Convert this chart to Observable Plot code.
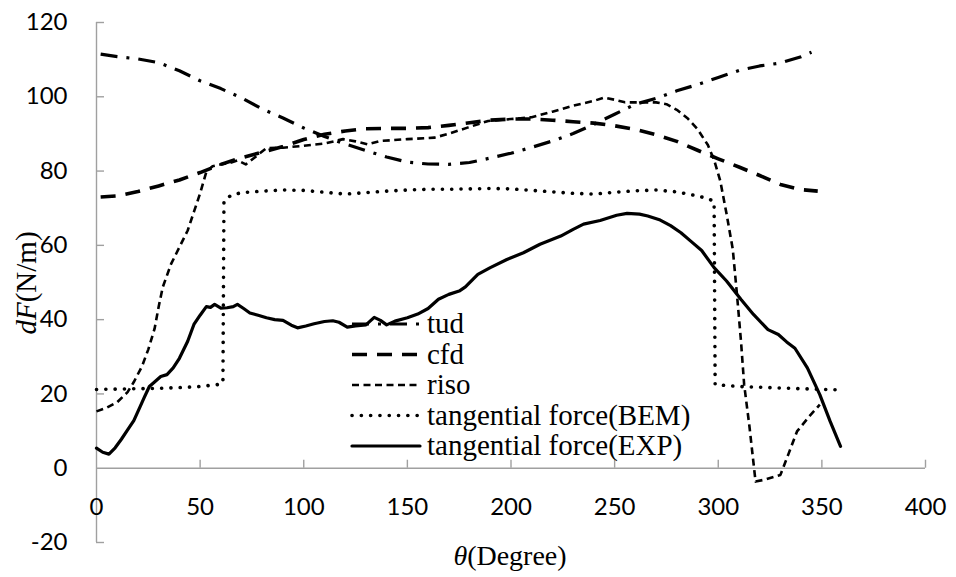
<!DOCTYPE html>
<html><head><meta charset="utf-8">
<script src="https://cdn.jsdelivr.net/npm/d3@7"></script>
<script src="https://cdn.jsdelivr.net/npm/@observablehq/plot@0.6"></script>
<style>body{margin:0;background:#fff} svg{display:block}</style>
</head><body><div id="chart"></div>
<script>
const xTicks = [0, 50, 100, 150, 200, 250, 300, 350, 400];
const yTicks = [-20, 0, 20, 40, 60, 80, 100, 120];
const seriesNames = ["tud", "cfd", "riso", "tangential force(BEM)", "tangential force(EXP)"];
const xTitle = "(Degree)";
const yTitle = "(N/m)";

const tudTheta = [2,10,20,30,40,50,60,70,80,90,100,110,120,130,140,150,160,170,180,190,200,210,220,230,240,250,260,270,280,290,300,310,320,330,340,345];
const tudF = [111.5,110.8,110.2,109.2,107,104.3,102.2,99.7,96.7,94.3,91.6,89.3,87.3,85.5,83.8,82.4,81.9,81.8,82.3,83.5,84.8,86.4,88.1,90.1,92.6,95.3,98,99.6,101.6,103.3,105.2,107.1,108.3,109.1,110.8,112];

const cfdTheta = [2,10,20,30,40,50,60,70,80,90,100,110,120,130,140,150,160,170,180,190,200,210,220,230,240,250,260,270,280,290,300,310,320,330,340,348];
const cfdF = [73,73.3,74.5,76,77.6,79.6,81.8,83.6,85.1,86.6,88.5,89.9,90.8,91.4,91.5,91.5,91.7,92.3,93,93.7,94,94,93.7,93.3,92.9,92.2,91.2,89.8,88,85.6,83.3,81.1,78.8,76.4,75,74.6];

const risoTheta = [0,5,10,15,18,22,25,28,30,32,36,40,44,47,50,53,56,60,65,68,72,76,82,90,100,110,119,125,131,137,150,163,169,179,189,200,210,220,230,240,245,250,255,260,270,275,280,285,290,295,298,301,304,307,309,311,312.5,315,318,323,330,334,338,344,349];
const risoF = [15.3,16.3,17.8,20.5,23.2,27.5,32,37.5,43.5,48.8,55,59.5,64,69,74,79.8,81.3,81.8,82.3,82.9,81.8,83.5,86.2,86.3,86.8,87.4,88.6,88,87.2,88.1,88.6,89,89.9,91.7,93.5,94,94.5,96,97.6,98.9,99.8,99.2,98.5,98.5,98.5,98,96.5,94.3,91.3,87,83,77.3,68.5,59,47,34,22.5,11.5,-3.6,-3,-1.8,4,9.9,14,17.1];

const bemTheta = [0,10,20,30,40,50,60,61,61.5,65,70,80,90,100,110,120,130,140,150,160,170,180,190,200,210,220,230,240,250,260,270,280,290,295,298,298.5,310,320,330,340,358];
const bemF = [21.2,21.3,21.4,21.5,21.7,22,22.6,23,72,73.5,74.2,74.6,74.9,74.8,74.3,73.8,74.2,74.6,74.9,75.1,75.1,75.2,75.3,75.2,74.8,74.4,74,73.8,74.3,74.7,74.9,74.4,73.3,72.6,71.8,22.5,22,21.8,21.6,21.4,21.1];

const expTheta = [0,3,6,9,12,15,18,21,23,25.5,28,31,34,37,40,44,47,50,53,55,57,60,63,66,68,71,74,78,82,86,90,94,97,101,105,110,114,117,121,125,130,134,137,140,144,150,155,160,165,170,175,178,184,190,198,206,214,224,230,235,243,251,256,262,266,272,277,282,287,292,298,304,311,317,324,329,333,337,343,349,354,359];
const expF = [5.4,4.3,3.8,5.5,7.8,10.3,12.8,16.5,19,22,23.2,24.7,25.2,27,29.6,34.2,38.7,41.2,43.5,43.3,44.1,43.1,43.2,43.5,44.1,43,41.8,41.2,40.5,40,39.8,38.5,37.8,38.3,38.9,39.5,39.7,39.3,38,38.3,38.6,40.6,39.8,38.6,39.6,40.5,41.5,43,45.5,46.8,47.7,48.8,52.2,54,56.2,58,60.3,62.5,64.3,65.7,66.7,68.1,68.6,68.4,67.9,66.8,65.3,63.4,61,58.6,54,50.4,45.4,41.4,37.3,36,34,32.3,27,19.8,12.6,5.9];

const rows = (th, f) => th.map((t, i) => ({theta: t, F: f[i]}));
const seriesData = [rows(tudTheta, tudF), rows(cfdTheta, cfdF), rows(risoTheta, risoF), rows(bemTheta, bemF), rows(expTheta, expF)];

const styles = [
  {strokeWidth: 3.2, strokeDasharray: "17,9,3,9", strokeLinecap: "butt"},
  {strokeWidth: 3.6, strokeDasharray: "15,10", strokeLinecap: "butt"},
  {strokeWidth: 2.6, strokeDasharray: "7,4.5", strokeLinecap: "butt"},
  {strokeWidth: 3.6, strokeDasharray: "0.1,9.2", strokeLinecap: "round"},
  {strokeWidth: 3.2, strokeDasharray: null, strokeLinecap: "round"}
];

const axisColor = "#a0a0a0";
const tickFont = "Lato, 'Open Sans', sans-serif";

const plot = Plot.plot({
  width: 956, height: 577,
  marginLeft: 96, marginRight: 31, marginTop: 22, marginBottom: 35,
  x: {domain: [0, 400], axis: null},
  y: {domain: [-20, 120], axis: null},
  style: {background: "white", fontFamily: tickFont, fontSize: "24px", color: "black"},
  marks: [
    Plot.ruleX([0], {stroke: axisColor, strokeWidth: 1.4}),
    Plot.ruleY([0], {stroke: axisColor, strokeWidth: 1.4}),
    Plot.ruleX(xTicks.filter(d => d !== 0), {x: d => d, y1: 0, y2: 0, insetTop: -8, stroke: axisColor, strokeWidth: 1.4}),
    Plot.ruleY(yTicks.filter(d => d !== 0), {y: d => d, x1: 0, x2: 0, insetRight: -8, stroke: axisColor, strokeWidth: 1.4}),
    Plot.text(yTicks, {x: 0, y: d => d, text: d => String(d), textAnchor: "end", dx: -29, fontSize: 24, fill: "black"}),
    Plot.text(xTicks, {x: d => d, y: 0, text: d => String(d), dy: 39, fontSize: 24, fill: "black"}),
    ...seriesData.map((data, i) => Plot.line(data, {x: "theta", y: "F", stroke: "black", fill: "none", ...styles[i]}))
  ]
});

document.getElementById("chart").appendChild(plot);
const svg = d3.select(plot);
const serif = "'Liberation Serif', 'Times New Roman', serif";

// y axis title
const yt = svg.append("text")
  .attr("transform", "translate(36,283) rotate(-90)")
  .attr("text-anchor", "middle")
  .attr("font-family", serif).attr("font-size", 29).attr("fill", "black");
yt.append("tspan").attr("font-style", "italic").text("dF");
yt.append("tspan").text(yTitle);

// x axis title
const xt = svg.append("text")
  .attr("x", 510).attr("y", 565)
  .attr("text-anchor", "middle")
  .attr("font-family", serif).attr("font-size", 28).attr("fill", "black");
xt.append("tspan").attr("font-style", "italic").text("θ");
xt.append("tspan").text(xTitle);

// legend
const lg = svg.append("g");
seriesNames.forEach((name, i) => {
  const y = 324 + 30.5 * i;
  const s = styles[i];
  lg.append("line").attr("x1", 352).attr("x2", 420).attr("y1", y).attr("y2", y)
    .attr("stroke", "black").attr("stroke-width", s.strokeWidth)
    .attr("stroke-dasharray", s.strokeDasharray).attr("stroke-linecap", s.strokeLinecap);
  lg.append("text").attr("x", 427).attr("y", y + 9)
    .attr("text-anchor", "start")
    .attr("font-family", serif).attr("font-size", 29).attr("fill", "black").text(name);
});
</script>
</body></html>
